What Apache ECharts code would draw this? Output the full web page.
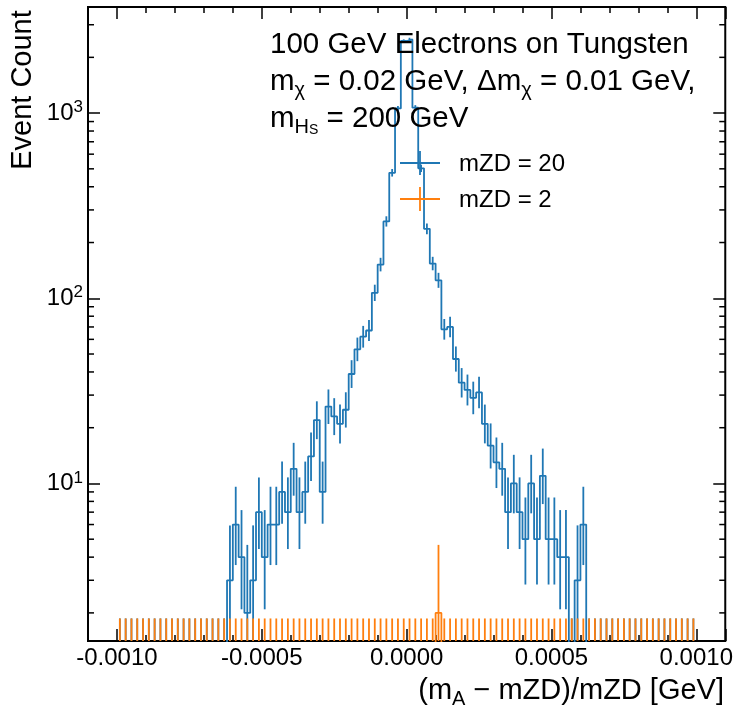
<!DOCTYPE html>
<html>
<head>
<meta charset="utf-8">
<script src="https://cdn.jsdelivr.net/npm/echarts@6/dist/echarts.min.js"></script>
<style>
html, body { margin: 0; padding: 0; background: #fff; }
#main { width: 736px; height: 709px; }
</style>
</head>
<body>
<div id="main"></div>
<script>
var FONT = 'Liberation Sans';

// histogram binning: 100 bins from -0.001 to 0.001
var BIN_MIN = -0.001;
var BIN_WIDTH = 0.00002;
var X_MIN = -0.0011, X_MAX = 0.0011;
var Y_MIN = 1.41, Y_MAX = 3740;

// event counts per bin, mZD = 20
var countsZD20 = [
    0, 0, 0, 0, 0, 0, 0, 0, 0, 0,
    0, 0, 0, 0, 0, 0, 0, 0, 0, 3,
    6, 4, 2, 3, 7, 4, 6, 6, 9, 7,
    12, 7, 9, 14, 22, 9, 26, 23, 21, 25,
    39, 53, 62, 67, 107, 152, 260, 476, 1060, 2450,
    2500, 1070, 503, 237, 154, 125, 68, 70, 47, 35,
    32, 29, 31, 21, 16, 13, 12, 7, 10, 7,
    5, 10, 5, 11, 5, 5, 4, 4, 0, 3,
    6, 0, 0, 0, 0, 0, 0, 0, 0, 0,
    0, 0, 0, 0, 0, 0, 0, 0, 0, 0
];
// event counts per bin, mZD = 2
var countsZD2 = [
    0, 0, 0, 0, 0, 0, 0, 0, 0, 0,
    0, 0, 0, 0, 0, 0, 0, 0, 0, 0,
    0, 0, 0, 0, 0, 0, 0, 0, 0, 0,
    0, 0, 0, 0, 0, 0, 0, 0, 0, 0,
    0, 0, 0, 0, 0, 0, 0, 0, 0, 0,
    0, 0, 0, 0, 0, 2, 0, 0, 0, 0,
    0, 0, 0, 0, 0, 0, 0, 0, 0, 0,
    0, 0, 0, 0, 0, 0, 0, 0, 0, 0,
    0, 0, 0, 0, 0, 0, 0, 0, 0, 0,
    0, 0, 0, 0, 0, 0, 0, 0, 0, 0
];
var yMinorTicks = [2, 3, 4, 5, 6, 7, 8, 9, 20, 30, 40, 50, 60, 70, 80, 90,
    200, 300, 400, 500, 600, 700, 800, 900, 2000, 3000];

var BLUE = '#1f77b4', ORANGE = '#ff7f0e';
var LW = 1.8;
var ZERO_FLOOR = 1e-3; // empty bins are drawn below the axis, like matplotlib

function stepData(counts) {
    var pts = [];
    for (var i = 0; i < counts.length; i++) {
        pts.push([BIN_MIN + i * BIN_WIDTH, counts[i] > 0 ? counts[i] : ZERO_FLOOR]);
    }
    var last = counts[counts.length - 1];
    pts.push([BIN_MIN + counts.length * BIN_WIDTH, last > 0 ? last : ZERO_FLOOR]);
    return pts;
}

function centerData(counts) {
    return counts.map(function (c, i) { return [BIN_MIN + (i + 0.5) * BIN_WIDTH, c]; });
}

// poisson (Gehrels) interval for the error bars
function errorBars(color) {
    return function (params, api) {
        var x = api.value(0), n = api.value(1);
        var lo = n > 0 ? n * Math.pow(1 - 1 / (9 * n) - 1 / (3 * Math.sqrt(n)), 3) : 0;
        var hi = n + 1 + Math.sqrt(n + 0.75);
        var p1 = api.coord([x, Math.max(lo, Y_MIN)]);
        var p2 = api.coord([x, Math.min(hi, Y_MAX)]);
        return {
            type: 'line',
            shape: { x1: p1[0], y1: p1[1], x2: p2[0], y2: p2[1] },
            style: { stroke: color, lineWidth: LW }
        };
    };
}

function yLabel(v) {
    var e = Math.round(Math.log(v) / Math.LN10);
    return '{b|10}{s|' + e + '}';
}

var tickStyle = { color: '#000', width: 1.5 };

function xAxisCfg(pos, labels) {
    return {
        type: 'value', position: pos, min: X_MIN, max: X_MAX,
        axisLine: { show: false, onZero: false },
        axisTick: { inside: true, length: 12, lineStyle: tickStyle },
        minorTick: { show: true, splitNumber: 5, length: 6, lineStyle: tickStyle },
        splitLine: { show: false },
        axisLabel: {
            show: labels, color: '#000', fontFamily: FONT, fontSize: 24, margin: 5,
            showMinLabel: false, showMaxLabel: false,
            formatter: function (v) { return v.toFixed(4); }
        }
    };
}

function yAxisCfg(pos, labels) {
    return {
        type: 'log', logBase: 10, position: pos, min: Y_MIN, max: Y_MAX,
        axisLine: { show: false, onZero: false },
        axisTick: { inside: true, length: 12, lineStyle: tickStyle },
        splitLine: { show: false },
        axisLabel: {
            show: labels, color: '#000', fontFamily: FONT, margin: 5,
            showMinLabel: false, showMaxLabel: false,
            formatter: yLabel,
            rich: {
                b: { fontSize: 24, fontFamily: FONT, color: '#000', lineHeight: 28 },
                s: { fontSize: 17, fontFamily: FONT, color: '#000', lineHeight: 20, verticalAlign: 'top' }
            }
        }
    };
}

function richText(size) {
    return {
        t: { fontSize: size, fontFamily: FONT, color: '#000', lineHeight: 36 },
        s: { fontSize: 20, fontFamily: FONT, color: '#000', lineHeight: 14, verticalAlign: 'bottom' },
        ss: { fontSize: 14, fontFamily: FONT, color: '#000', lineHeight: 8, verticalAlign: 'bottom' }
    };
}

function label(text, x, y, size, align) {
    return { type: 'text', z: 100, x: x, y: y,
        style: { text: text, rich: richText(size), align: align || 'left', verticalAlign: 'top' } };
}

function legendCross(y, color) {
    return [
        { type: 'line', z: 100, shape: { x1: 400, y1: y, x2: 440, y2: y }, style: { stroke: color, lineWidth: LW } },
        { type: 'line', z: 100, shape: { x1: 420, y1: y - 12, x2: 420, y2: y + 12 }, style: { stroke: color, lineWidth: LW } }
    ];
}

var myChart = echarts.init(document.getElementById('main'));

var option = {
    backgroundColor: '#fff',
    animation: false,
    grid: { left: 88, right: 10, top: 7, bottom: 68, show: true, borderColor: '#000', borderWidth: 2, backgroundColor: 'transparent' },
    xAxis: [xAxisCfg('bottom', true), xAxisCfg('top', false)],
    yAxis: [yAxisCfg('left', true), yAxisCfg('right', false)],
    series: [
        {
            name: 'mZD = 20', type: 'line', step: 'end', symbol: 'none', z: 2,
            data: stepData(countsZD20),
            lineStyle: { color: BLUE, width: LW }
        },
        {
            type: 'custom', z: 3, clip: true, silent: true,
            data: centerData(countsZD20), encode: { x: 0, y: 1 },
            renderItem: errorBars(BLUE)
        },
        {
            name: 'mZD = 2', type: 'line', step: 'end', symbol: 'none', z: 4,
            data: stepData(countsZD2),
            lineStyle: { color: ORANGE, width: LW }
        },
        {
            type: 'custom', z: 5, clip: true, silent: true,
            data: centerData(countsZD2), encode: { x: 0, y: 1 },
            renderItem: errorBars(ORANGE)
        },
        {
            // minor ticks of the log axis, left and right
            type: 'custom', z: 6, silent: true,
            data: yMinorTicks.map(function (v) { return [X_MIN, v]; }), encode: { x: 0, y: 1 },
            renderItem: function (params, api) {
                var v = api.value(1);
                var l = api.coord([X_MIN, v]), r = api.coord([X_MAX, v]);
                return {
                    type: 'group',
                    children: [
                        { type: 'line', shape: { x1: l[0], y1: l[1], x2: l[0] + 6, y2: l[1] }, style: { stroke: '#000', lineWidth: 1.5 } },
                        { type: 'line', shape: { x1: r[0] - 6, y1: r[1], x2: r[0], y2: r[1] }, style: { stroke: '#000', lineWidth: 1.5 } }
                    ]
                };
            }
        }
    ],
    graphic: [
        label('{t|100 GeV Electrons on Tungsten}', 270, 27, 29.5),
        label('{t|m}{s|χ}{t| = 0.02 GeV, Δm}{s|χ}{t| = 0.01 GeV,}', 270, 64, 29.5),
        label('{t|m}{s|H}{ss|S}{t| = 200 GeV}', 270, 101, 29.5),
        label('{t|(m}{s|A}{t| − mZD)/mZD [GeV]}', 724, 673, 29, 'right'),
        {
            type: 'text', z: 100, x: 22.5, y: 90, rotation: Math.PI / 2,
            style: { text: 'Event Count', fontSize: 29, fontFamily: FONT, fill: '#000', align: 'center', verticalAlign: 'middle' }
        },
        { type: 'text', z: 100, x: 459, y: 164, style: { text: 'mZD = 20', fontSize: 24, fontFamily: FONT, fill: '#000', verticalAlign: 'middle' } },
        { type: 'text', z: 100, x: 459, y: 200, style: { text: 'mZD = 2', fontSize: 24, fontFamily: FONT, fill: '#000', verticalAlign: 'middle' } }
    ].concat(legendCross(163, BLUE), legendCross(199, ORANGE))
};

myChart.setOption(option);
</script>
</body>
</html>
